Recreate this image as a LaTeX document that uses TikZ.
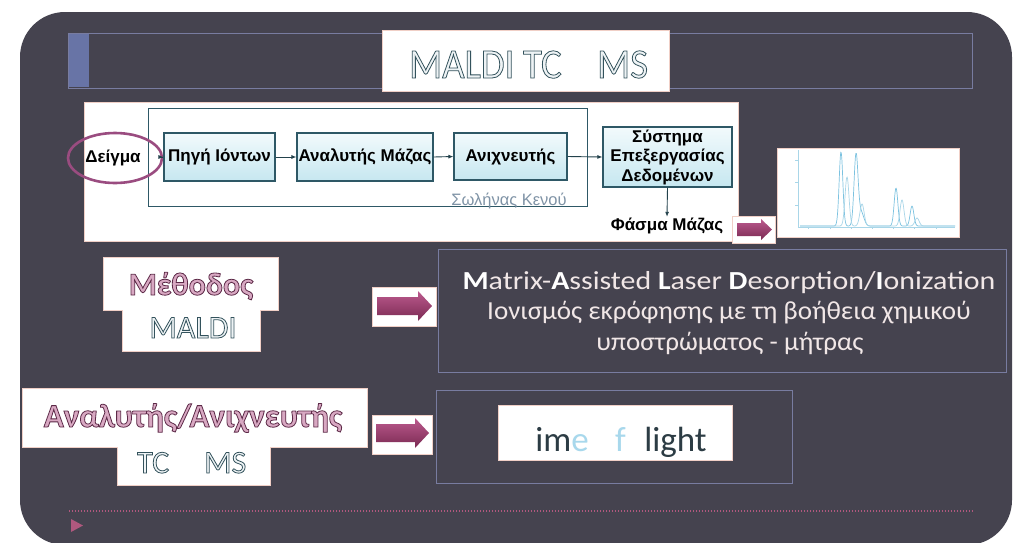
\documentclass[tikz,border=0pt]{standalone}
\usepackage{fontspec}
\setmainfont{Liberation Sans}
\newfontfamily\calfont{Carlito}
\newfontfamily\calcond[FakeStretch=0.92]{Carlito}
\newfontfamily\calwide[FakeStretch=1.15]{Carlito}
\newfontfamily\calmid[FakeStretch=1.04]{Carlito}
\usetikzlibrary{shapes.geometric,arrows.meta,calc}
\definecolor{slidebg}{HTML}{45434F}
\definecolor{outl}{HTML}{787CA0}
\definecolor{accent}{HTML}{6874A6}
\definecolor{paperline}{HTML}{F0CFC6}
\definecolor{boxline}{HTML}{2E5866}
\definecolor{boxtop}{HTML}{F2FAFC}
\definecolor{boxbot}{HTML}{C6E7F0}
\definecolor{connline}{HTML}{23424C}
\definecolor{ellcol}{HTML}{9A4C80}
\definecolor{tubetext}{HTML}{7F93A6}
\definecolor{arrtop}{HTML}{BC5A8E}
\definecolor{arrbot}{HTML}{7A2A52}
\definecolor{dotpink}{HTML}{B0587E}
\definecolor{bodytext}{HTML}{F1E7E7}
\definecolor{pinkfill}{HTML}{D8A8C2}
\definecolor{lightfill}{HTML}{EEF3F5}
\definecolor{specA}{HTML}{7CC2E0}
\definecolor{specB}{HTML}{A9D6E8}
\definecolor{lightblue}{HTML}{A8D8EC}
\definecolor{tofdark}{HTML}{2C3C44}
\newcommand\outtext[3]{{\color{#1}\special{pdf:literal direct #2 RG 0.8 w 2 Tr}#3\special{pdf:literal direct 0 Tr}}}
\newcommand\dgfont{\fontsize{17}{19.5}\selectfont\bfseries}
\begin{document}
\begin{tikzpicture}[x=1pt,y=-1pt,
  dbox/.style={draw=boxline, line width=1.1pt, top color=boxtop, bottom color=boxbot, font=\dgfont, inner sep=0pt, align=center},
  conn/.style={draw=connline, line width=0.9pt, -{Latex[length=5pt,width=4pt]}},
  paper/.style={fill=white, draw=paperline, line width=0.6pt},
  frame/.style={draw=outl, line width=0.9pt},
  pinkarrow/.style={top color=arrtop, bottom color=arrbot, draw=none},
  bigtext/.style={font=\calwide\fontsize{26}{30}\selectfont, text=bodytext, inner sep=0pt, anchor=base},
  greektext/.style={font=\calmid\fontsize{26}{30}\selectfont, text=bodytext, inner sep=0pt, anchor=base},
  shtitle/.style={inner sep=0pt, anchor=base west}
]
\useasboundingbox (0,0) rectangle (1020,542);
\fill[white] (0,0) rectangle (1020,542);
\fill[slidebg, rounded corners=45pt] (20,12) rectangle (1012,545);

% title bar
\draw[frame] (68,33) rectangle (972,88);
\fill[accent] (69,34) rectangle (89,87);
\draw[paper] (382,30) rectangle (669,91);
\node[shtitle, font=\calcond\fontsize{42}{42}\selectfont] (ttl1) at (409,78) {\outtext{lightfill}{0.2 0.32 0.36}{MALDI TC}};
\node[shtitle, font=\calcond\fontsize{42}{42}\selectfont] (ttl2) at (597,78) {\outtext{lightfill}{0.2 0.32 0.36}{MS}};

% block diagram panel
\draw[paper] (84,102) rectangle (738,241);
\draw[boxline, line width=1pt] (148,108) rectangle (587,206);
\node[font=\fontsize{16.5}{16.5}\selectfont, text=tubetext, anchor=base, inner sep=0pt] (tube) at (509,205) {Σωλήνας Κενού};
\node[font=\dgfont, inner sep=0pt] (deigma) at (113,158) {Δείγμα};
\node[ellipse, draw=ellcol, line width=2.6pt, minimum width=94pt, minimum height=50pt] (deigmaell) at (115,158) {};
\node[dbox, minimum width=111pt, minimum height=48pt] (pigi) at (219.5,157) {Πηγή Ιόντων};
\node[dbox, minimum width=136pt, minimum height=48pt] (analy) at (365,157) {Αναλυτής Μάζας};
\node[dbox, minimum width=113pt, minimum height=47pt] (anix) at (510.5,156.5) {Ανιχνευτής};
\node[dbox, minimum width=129pt, minimum height=60pt] (sys) at (667.5,157) {Σύστημα\\Επεξεργασίας\\Δεδομένων};
\node[font=\dgfont, inner sep=1pt] (fasma) at (667,226) {Φάσμα Μάζας};
\draw[conn] (deigmaell.east |- pigi.west) -- (pigi.west);
\draw[conn] (pigi.east) -- (analy.west);
\draw[conn] (analy.east) -- (anix.west);
\draw[conn] (anix.east) -- (sys.west);
\draw[conn] (sys.south) -- (fasma.north);

% small arrow to spectrum
\draw[paper] (732,216) rectangle (775,243);
\shade[pinkarrow] (737,223) -- (761,223) -- (761,219) -- (772,229.5) -- (761,240) -- (761,236) -- (737,236) -- cycle;

% spectrum
\draw[paper] (777,148) rectangle (959,237);
\draw[specB, line width=0.6pt] (798,150) -- (798,227) -- (955,227);
\foreach \t in {160,182,205} \draw[specB, line width=0.5pt] (795,\t) -- (798,\t);
\foreach \t in {808,830,851,872,893,914,936} \draw[specB, line width=0.5pt] (\t,227) -- (\t,229);
\draw[specA, line width=0.7pt] plot[domain=800:955, samples=320, smooth] (\x, {226 - 74*exp(-((\x-841)/2.6)^2) - 70*exp(-((\x-856)/2.8)^2) - 14*exp(-((\x-861)/4)^2) - 38*exp(-((\x-896)/2.6)^2) - 20*exp(-((\x-912)/2.6)^2)});
\draw[specB, line width=0.7pt] plot[domain=800:955, samples=320, smooth] (\x, {226 - 49*exp(-((\x-847)/2.8)^2) - 22*exp(-((\x-862)/3)^2) - 26*exp(-((\x-902)/2.8)^2) - 8*exp(-((\x-917)/3)^2)});

% row 2
\draw[paper] (103,257) -- (278,257) -- (278,310) -- (260,310) -- (260,351) -- (122,351) -- (122,310) -- (103,310) -- cycle;
\node[inner sep=0pt, anchor=base, font=\calfont\bfseries\fontsize{32}{32}\selectfont] (methodos) at (191,295) {\outtext{pinkfill}{0.36 0.16 0.28}{Μέθοδος}};
\node[inner sep=0pt, anchor=base, font=\calfont\fontsize{32}{32}\selectfont] (maldi) at (193,338) {\outtext{lightfill}{0.2 0.32 0.36}{MALDI}};
\draw[paper] (372,287) rectangle (436,326);
\shade[pinkarrow] (377,297) -- (418,297) -- (418,291) -- (432,306) -- (418,321) -- (418,315) -- (377,315) -- cycle;
\draw[frame] (438,249) rectangle (1006,372);
\node[bigtext] (l1) at (729,289) {\textcolor{white}{\bfseries M}atrix-\textcolor{white}{\bfseries A}ssisted \textcolor{white}{\bfseries L}aser \textcolor{white}{\bfseries D}esorption/\textcolor{white}{\bfseries I}onization};
\node[greektext] (l2) at (729,319) {Ιονισμός εκρόφησης με τη βοήθεια χημικού};
\node[greektext] (l3) at (730,350) {υποστρώματος - μήτρας};

% row 3
\draw[paper] (22,388) -- (367,388) -- (367,447) -- (270,447) -- (270,485) -- (117,485) -- (117,447) -- (22,447) -- cycle;
\node[inner sep=0pt, anchor=base, font=\calfont\bfseries\fontsize{33}{33}\selectfont] (anal2) at (193,427) {\outtext{pinkfill}{0.36 0.16 0.28}{Αναλυτής/Ανιχνευτής}};
\node[inner sep=0pt, anchor=base west, font=\calfont\fontsize{32}{32}\selectfont] (tc) at (137,473) {\outtext{lightfill}{0.2 0.32 0.36}{TC}};
\node[inner sep=0pt, anchor=base west, font=\calfont\fontsize{32}{32}\selectfont] (ms) at (204,473) {\outtext{lightfill}{0.2 0.32 0.36}{MS}};
\draw[paper] (372,415) rectangle (432,454);
\shade[pinkarrow] (376,424) -- (415,424) -- (415,418) -- (429,433) -- (415,448) -- (415,442) -- (376,442) -- cycle;
\draw[frame] (436,390) rectangle (792,483);
\draw[paper] (498,405) rectangle (732,460);
\node[inner sep=0pt, anchor=base west, font=\calfont\fontsize{35}{35}\selectfont, text=tofdark] (tof) at (518,451) {\phantom{T}im\textcolor{lightblue}{e} \phantom{o}\textcolor{lightblue}{f} \phantom{f}light};

% footer
\draw[dotpink, line width=1.3pt, dash pattern=on 1.4pt off 1.6pt] (69,511) -- (974,511);
\fill[dotpink] (71,519) -- (83,525.5) -- (71,532) -- cycle;
\end{tikzpicture}
\end{document}
